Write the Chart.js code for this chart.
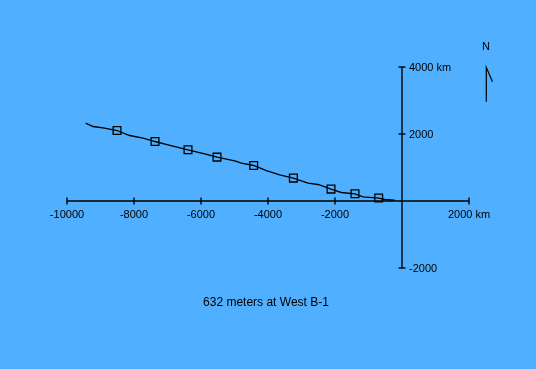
<!DOCTYPE html>
<html lang="en">
<head>
    <meta charset="UTF-8">
    <title>632 meters at West B-1</title>
    <style>
        body {
            margin: 0;
            background: rgb(80, 176, 255);
        }
        canvas {
            display: block;
        }
    </style>
</head>
<body>
    <canvas id="trackChart" width="536" height="369"></canvas>
    <script src="https://cdn.jsdelivr.net/npm/chart.js"></script>
    <script>
        // track in km
        const trackX = [-9442, -9224, -8875, -8507, -8128, -7731, -7373, -6985, -6388, -5890, -5522, -4994, -4794, -4427, -4048, -3651, -3242, -2806, -2507, -2119, -1809, -1403, -1164, -696, -516, -218];
        const trackY = [2325, 2224, 2176, 2104, 1955, 1878, 1776, 1678, 1528, 1409, 1310, 1200, 1131, 1060, 910, 781, 684, 534, 493, 355, 254, 215, 125, 87, 45, 27];

        // square markers
        const markX = [-8507, -7373, -6388, -5522, -4427, -3242, -2119, -1403, -696];
        const markY = [2104, 1776, 1528, 1310, 1060, 684, 355, 215, 87];

        // axis ticks
        const xTicks = [-10000, -8000, -6000, -4000, -2000, 2000];
        const xTickLabels = ['-10000', '-8000', '-6000', '-4000', '-2000', '2000 km'];
        const yTicks = [4000, 2000, -2000];
        const yTickLabels = ['4000 km', '2000', '-2000'];

        const chartTitle = '632 meters at West B-1';

        // Draw the crossing axes, tick labels, north arrow and caption
        const axesPlugin = {
            id: 'axesPlugin',
            afterDraw(chart) {
                const ctx = chart.ctx;
                const xs = chart.scales.x;
                const ys = chart.scales.y;
                const x0 = xs.getPixelForValue(0);
                const y0 = ys.getPixelForValue(0);

                ctx.save();
                ctx.strokeStyle = '#000';
                ctx.fillStyle = '#000';
                ctx.lineWidth = 1.4;

                // x axis
                ctx.beginPath();
                ctx.moveTo(xs.getPixelForValue(-10000), y0);
                ctx.lineTo(xs.getPixelForValue(2000), y0);
                ctx.stroke();

                // y axis
                ctx.beginPath();
                ctx.moveTo(x0, ys.getPixelForValue(4000));
                ctx.lineTo(x0, ys.getPixelForValue(-2000));
                ctx.stroke();

                ctx.font = '11px "Liberation Sans", Arial, sans-serif';

                // x ticks
                ctx.textAlign = 'center';
                ctx.textBaseline = 'middle';
                xTicks.forEach((v, i) => {
                    const px = xs.getPixelForValue(v);
                    ctx.beginPath();
                    ctx.moveTo(px, y0 - 3.5);
                    ctx.lineTo(px, y0 + 3.5);
                    ctx.stroke();
                    ctx.fillText(xTickLabels[i], px, y0 + 14);
                });

                // y ticks
                ctx.textAlign = 'left';
                yTicks.forEach((v, i) => {
                    const py = ys.getPixelForValue(v);
                    ctx.beginPath();
                    ctx.moveTo(x0 - 3.5, py);
                    ctx.lineTo(x0 + 3.5, py);
                    ctx.stroke();
                    ctx.fillText(yTickLabels[i], x0 + 7, py + 0.5);
                });

                // north arrow
                ctx.lineWidth = 1.2;
                ctx.beginPath();
                ctx.moveTo(486.3, 101.7);
                ctx.lineTo(486.3, 67.3);
                ctx.lineTo(492.5, 81.7);
                ctx.stroke();
                ctx.textAlign = 'center';
                ctx.fillText('N', 486, 46.5);

                // caption
                ctx.font = '12px "Liberation Sans", Arial, sans-serif';
                ctx.fillText(chartTitle, 266, 303);
                ctx.restore();
            }
        };

        const ctx = document.getElementById('trackChart').getContext('2d');
        const trackChart = new Chart(ctx, {
            type: 'scatter',
            data: {
                datasets: [
                    {
                        label: 'track',
                        data: trackX.map((x, i) => ({ x: x, y: trackY[i] })),
                        showLine: true,
                        borderColor: '#000',
                        borderWidth: 1.3,
                        pointRadius: 0,
                        tension: 0,
                        fill: false
                    },
                    {
                        label: 'marks',
                        data: markX.map((x, i) => ({ x: x, y: markY[i] })),
                        showLine: false,
                        pointStyle: 'rect',
                        pointRadius: 5.5,
                        pointBorderWidth: 1.3,
                        pointBorderColor: '#000',
                        pointBackgroundColor: 'rgba(0,0,0,0)'
                    }
                ]
            },
            options: {
                responsive: false,
                animation: false,
                layout: {
                    padding: { left: 67, right: 67, top: 67, bottom: 101 }
                },
                plugins: {
                    legend: { display: false },
                    tooltip: { enabled: false }
                },
                scales: {
                    x: { type: 'linear', display: false, min: -10000, max: 2000 },
                    y: { type: 'linear', display: false, min: -2000, max: 4000 }
                }
            },
            plugins: [axesPlugin]
        });
    </script>
</body>
</html>
